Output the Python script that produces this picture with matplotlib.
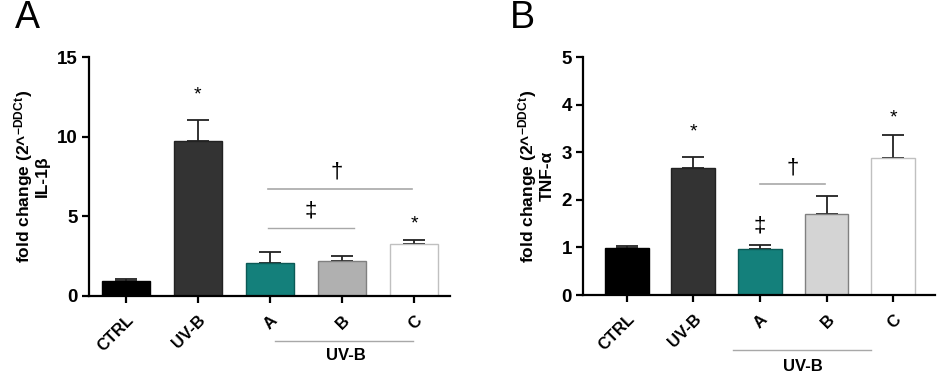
import matplotlib
matplotlib.use("Agg")
import matplotlib.pyplot as plt
import numpy as np

plt.rcParams['font.family'] = ['Liberation Sans', 'DejaVu Sans']
plt.rcParams['mathtext.fontset'] = 'custom'
plt.rcParams['mathtext.rm'] = 'Liberation Sans:bold'
plt.rcParams['mathtext.it'] = 'Liberation Sans:bold'
plt.rcParams['mathtext.bf'] = 'Liberation Sans:bold'

categories = ["CTRL", "UV-B", "A", "B", "C"]

# panel A: IL-1beta
il1b_mean = [0.95, 9.75, 2.08, 2.2, 3.26]
il1b_err = [0.09, 1.32, 0.68, 0.3, 0.27]
# panel B: TNF-alpha
tnf_mean = [0.99, 2.66, 0.96, 1.70, 2.88]
tnf_err = [0.03, 0.24, 0.09, 0.39, 0.49]

colors_a = ["#000000", "#333333", "#14807b", "#b0b0b0", "#ffffff"]
colors_b = ["#000000", "#333333", "#14807b", "#d4d4d4", "#ffffff"]
edges = ["#000000", "#222222", "#0b5a56", "#808080", "#c0c0c0"]

ylabel_a = "fold change (2^$^{-DDCt}$)\nIL-1β"
ylabel_b = "fold change (2^$^{-DDCt}$)\nTNF-α"

fig = plt.figure(figsize=(9.41, 3.76), dpi=100)
ax1 = fig.add_axes([89 / 941, 1 - 296 / 376, (450 - 89) / 941, (296 - 57) / 376])
ax2 = fig.add_axes([583 / 941, 1 - 295 / 376, (935 - 583) / 941, (295 - 57) / 376])


def draw_panel(ax, means, errs, colors, ylabel, ymax, step, xlim, width):
    x = np.arange(len(categories))
    ax.bar(x, means, width=width, color=colors, edgecolor=edges, linewidth=1.0, zorder=2)
    ax.errorbar(x, means, yerr=[np.zeros(len(errs)), errs], fmt="none",
                ecolor="#222222", elinewidth=1.3, capsize=8, capthick=1.3, zorder=1)
    ax.set_xlim(*xlim)
    ax.set_ylim(0, ymax)
    ax.set_yticks(np.arange(0, ymax + 0.01, step))
    ax.set_xticks(x)
    ax.set_xticklabels(categories, rotation=45, ha="right", rotation_mode="anchor",
                       fontsize=12, fontweight="bold")
    for lab in ax.get_yticklabels():
        lab.set_fontweight("bold")
        lab.set_fontsize(13.5)
    ax.spines["top"].set_visible(False)
    ax.spines["right"].set_visible(False)
    ax.spines["left"].set_linewidth(1.6)
    ax.spines["bottom"].set_linewidth(1.6)
    ax.tick_params(axis="both", width=1.6, length=5, pad=3)
    ax.tick_params(axis="x", pad=7)
    ax.set_ylabel(ylabel, fontsize=12.5, fontweight="bold", labelpad=5, linespacing=1.05)


draw_panel(ax1, il1b_mean, il1b_err, colors_a, ylabel_a, 15, 5, (-0.51, 4.5), 0.67)
draw_panel(ax2, tnf_mean, tnf_err, colors_b, ylabel_b, 5, 1, (-0.66, 4.63), 0.66)

sig_gray = "#a8a8a8"
# panel A annotations
ax1.text(1, 12.6, "*", ha="center", va="center", fontsize=14)
ax1.text(4, 4.5, "*", ha="center", va="center", fontsize=14)
ax1.plot([1.97, 3.97], [6.7, 6.7], color=sig_gray, lw=1.2)
ax1.text(2.93, 7.8, "†", ha="center", va="center", fontsize=16)
ax1.plot([1.97, 3.17], [4.28, 4.28], color=sig_gray, lw=1.0)
ax1.text(2.57, 5.35, "‡", ha="center", va="center", fontsize=16)
trans1 = ax1.get_xaxis_transform()
ax1.plot([2.07, 3.99], [-0.19, -0.19], color=sig_gray, lw=1.0, transform=trans1, clip_on=False)
ax1.text(3.06, -0.25, "UV-B", ha="center", va="center", fontsize=12,
         fontweight="bold", transform=trans1)

# panel B annotations
ax2.text(1, 3.42, "*", ha="center", va="center", fontsize=14)
ax2.text(4, 3.72, "*", ha="center", va="center", fontsize=14)
ax2.plot([2.0, 2.98], [2.33, 2.33], color=sig_gray, lw=1.2)
ax2.text(2.49, 2.66, "†", ha="center", va="center", fontsize=16)
ax2.text(2.0, 1.44, "‡", ha="center", va="center", fontsize=16)
trans2 = ax2.get_xaxis_transform()
ax2.plot([1.59, 3.67], [-0.23, -0.23], color=sig_gray, lw=1.0, transform=trans2, clip_on=False)
ax2.text(2.64, -0.30, "UV-B", ha="center", va="center", fontsize=12,
         fontweight="bold", transform=trans2)

fig.text(15 / 941, 1 - 28 / 376, "A", fontsize=27, ha="left", va="baseline")
fig.text(510 / 941, 1 - 28 / 376, "B", fontsize=27, ha="left", va="baseline")

fig.savefig("out.png", dpi=100)
